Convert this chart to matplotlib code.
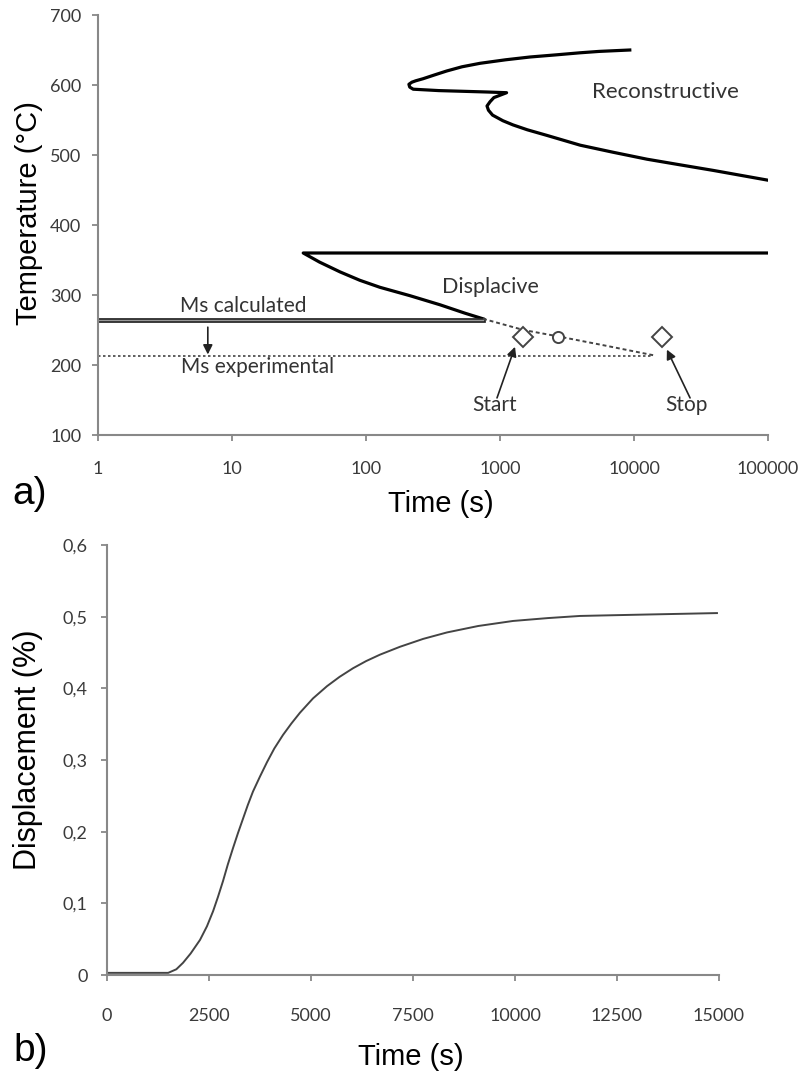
import matplotlib.pyplot as plt
from matplotlib.ticker import FixedLocator, FixedFormatter

# ---- panel a data (time in s, temperature in degC) ----
recon_t = [9300, 5500, 3950, 2600, 1675, 1100, 710, 520, 400, 320, 267, 235, 220,
           209, 212, 225, 350, 530, 800, 1120,
           900, 842, 800, 820, 880, 1050, 1250, 1600, 2240, 3970, 6950,
           12500, 22000, 39000, 100000]
recon_T = [650, 648, 646, 643, 640, 636, 631, 626, 620, 614, 609, 606, 604,
           601, 597, 594, 592, 591, 590, 589,
           582, 576, 570, 564, 557, 549, 543, 536, 528, 514, 504,
           494, 486, 478, 464]

disp_t = [100000, 34, 45, 64, 90, 127, 213, 357, 548, 747]
disp_T = [360, 360, 347, 333, 321, 311, 299, 286, 274, 266]

ext_t = [747, 1500, 2700, 6000, 13900]
ext_T = [266, 250, 241, 228, 214]

ms_calc_t = [1, 747]
ms_calc_T = [264, 264]
ms_exp_t = [1, 13900]
ms_exp_T = [213, 213]

start_t, start_T = 1480, 240
mid_t, mid_T = 2700, 240
stop_t, stop_T = 16200, 240

a_xticks = [1, 10, 100, 1000, 10000, 100000]
a_yticks = [100, 200, 300, 400, 500, 600, 700]

# ---- panel b data (time in s, displacement in %) ----
b_t = [0, 500, 1000, 1500, 1700, 1863, 2050, 2280, 2450, 2600, 2720, 2843,
       2960, 3088, 3210, 3333, 3450, 3578, 3750, 3922, 4100, 4314, 4520, 4730,
       5050, 5392, 5700, 6029, 6350, 6691, 7181, 7750, 8333, 9100, 9951,
       10800, 11593, 12400, 13235, 14100, 14950]
b_d = [0.003, 0.003, 0.003, 0.003, 0.008, 0.017, 0.030, 0.049, 0.068, 0.089,
       0.109, 0.131, 0.154, 0.177, 0.198, 0.218, 0.237, 0.256, 0.277, 0.297,
       0.316, 0.335, 0.351, 0.366, 0.386, 0.403, 0.416, 0.428, 0.438, 0.447,
       0.458, 0.469, 0.478, 0.487, 0.494, 0.498, 0.501, 0.502, 0.503, 0.504,
       0.505]
b_xticks = [0, 2500, 5000, 7500, 10000, 12500, 15000]
b_yticks = [0, 0.1, 0.2, 0.3, 0.4, 0.5, 0.6]
b_ylabels = ['0', '0,1', '0,2', '0,3', '0,4', '0,5', '0,6']

W, H = 803, 1082
fig = plt.figure(figsize=(W / 100, H / 100), dpi=100)

small = dict(family='Lato', color='#333333')
big = dict(family='Liberation Sans', color='black')
spine_c = '#888888'


def style(ax):
    for s in ('top', 'right'):
        ax.spines[s].set_visible(False)
    for s in ('left', 'bottom'):
        ax.spines[s].set_color(spine_c)
        ax.spines[s].set_linewidth(1.5)
    ax.tick_params(colors=spine_c, width=1.3, length=4, labelcolor='#3a3a3a')


# ---------------- panel a ----------------
ax1 = fig.add_axes([98 / W, 1 - 435 / H, 670 / W, 420 / H])
style(ax1)
ax1.set_xscale('log')
ax1.set_xlim(1, 100000)
ax1.set_ylim(100, 700)
ax1.xaxis.set_major_locator(FixedLocator(a_xticks))
ax1.xaxis.set_major_formatter(FixedFormatter([str(v) for v in a_xticks]))
ax1.xaxis.set_minor_locator(FixedLocator([]))
ax1.set_yticks(a_yticks)
ax1.tick_params(axis='x', pad=15)
ax1.tick_params(axis='y', pad=8)
for lab in ax1.get_xticklabels() + ax1.get_yticklabels():
    lab.set_family('Lato')
    lab.set_fontsize(13)

ax1.plot(recon_t, recon_T, color='black', lw=2.3, solid_joinstyle='round')
ax1.plot(disp_t, disp_T, color='black', lw=2.3, solid_joinstyle='round')
ax1.plot(ms_calc_t, ms_calc_T, color='#222222', lw=3.4)
ax1.plot(ms_calc_t, ms_calc_T, color='#999999', lw=1.0)
ax1.plot(ms_exp_t, ms_exp_T, color='#444444', lw=1.2, ls=(0, (1.5, 1.5)))
ax1.plot(ext_t, ext_T, color='#444444', lw=1.4, ls=(0, (2, 1.5)))

ax1.plot([start_t, stop_t], [start_T, stop_T], ls='none', marker='D', ms=10,
         mfc='white', mec='#444444', mew=1.4)
ax1.plot([mid_t], [mid_T], ls='none', marker='o', ms=8,
         mfc='white', mec='#444444', mew=1.4)

ax1.text(12.1, 284, 'Ms calculated', fontsize=15, ha='center', va='center', **small)
ax1.text(15.4, 197, 'Ms experimental', fontsize=15, ha='center', va='center', **small)
ax1.text(842, 311, 'Displacive', fontsize=15.5, ha='center', va='center', **small)
ax1.text(17300, 590, 'Reconstructive', fontsize=16, ha='center', va='center', **small)
ax1.text(915, 143, 'Start', fontsize=15, ha='center', va='center', **small)
ax1.text(24500, 143, 'Stop', fontsize=15, ha='center', va='center', **small)

arrow = dict(arrowstyle='-|>', color='#222222', lw=1.2, mutation_scale=14,
             shrinkA=0, shrinkB=0)
ax1.annotate('', xy=(6.6, 215), xytext=(6.6, 254), arrowprops=arrow)
ax1.annotate('', xy=(1294, 226), xytext=(950, 153), arrowprops=arrow)
ax1.annotate('', xy=(17600, 222), xytext=(26200, 153), arrowprops=arrow)

ax1.set_ylabel('Temperature (°C)', fontsize=21, **big)
ax1.set_xlabel('Time (s)', fontsize=21, **big)
ax1.xaxis.set_label_coords(0.512, -0.131)
ax1.yaxis.set_label_coords(-0.082, 0.529)
fig.text(12 / W, 1 - 494 / H, 'a)', fontsize=28, ha='left', va='center', **big)

# ---------------- panel b ----------------
ax2 = fig.add_axes([107 / W, 1 - 975 / H, 612 / W, 430 / H])
style(ax2)
ax2.set_xlim(0, 15000)
ax2.set_ylim(0, 0.6)
ax2.set_xticks(b_xticks)
ax2.set_xticklabels([str(v) for v in b_xticks])
ax2.set_yticks(b_yticks)
ax2.set_yticklabels(b_ylabels)
ax2.tick_params(axis='x', pad=20)
ax2.tick_params(axis='y', pad=10)
for lab in ax2.get_xticklabels() + ax2.get_yticklabels():
    lab.set_family('Lato')
    lab.set_fontsize(13)

ax2.plot(b_t, b_d, color='#444444', lw=1.4, solid_joinstyle='round')

ax2.set_ylabel('Displacement (%)', fontsize=22, **big)
ax2.set_xlabel('Time (s)', fontsize=21, **big)
ax2.xaxis.set_label_coords(0.497, -0.158)
ax2.yaxis.set_label_coords(-0.105, 0.523)
fig.text(13 / W, 1 - 1051 / H, 'b)', fontsize=28, ha='left', va='center', **big)

fig.savefig('out.png', dpi=100)
